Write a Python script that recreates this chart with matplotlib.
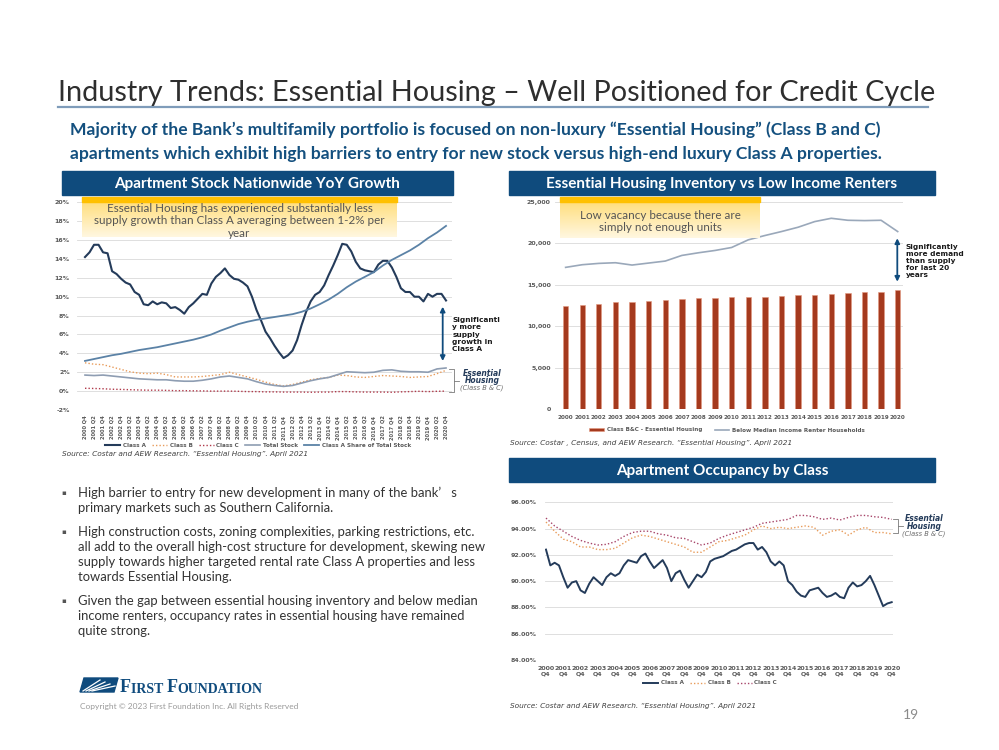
import matplotlib
matplotlib.use("Agg")
import matplotlib.pyplot as plt
import numpy as np
from matplotlib.patches import Rectangle, Polygon, FancyArrowPatch

W, H = 999, 750

# ---------------- data ----------------
# Apartment stock YoY growth (%), 2000 Q4 .. 2020 Q4
half_labels = ["2000 Q4"] + [f"{y} {q}" for y in range(2001, 2021) for q in ("Q2", "Q4")]
class_a_growth = [14.2, 14.7, 15.5, 15.5, 14.7, 14.6, 12.7, 12.4, 11.9, 11.5, 11.3, 10.5, 10.2, 9.2,
                  9.1, 9.5, 9.2, 9.4, 9.3, 8.8, 8.9, 8.6, 8.2, 8.9, 9.3, 9.8, 10.3, 10.2, 11.4, 12.1,
                  12.5, 13.0, 12.3, 11.9, 11.8, 11.5, 11.1, 10.0, 8.6, 7.5, 6.3, 5.6, 4.8, 4.1, 3.5,
                  3.8, 4.3, 5.4, 7.0, 8.4, 9.5, 10.2, 10.5, 11.2, 12.3, 13.3, 14.4, 15.6, 15.5, 14.8,
                  13.7, 13.0, 12.8, 12.7, 12.6, 13.4, 13.8, 13.8, 13.1, 12.1, 10.9, 10.5, 10.5, 10.0,
                  10.0, 9.5, 10.3, 10.0, 10.3, 10.3, 9.6]  # quarterly
class_b_growth = [3.0, 2.85, 2.8, 2.55, 2.3, 2.05, 1.9, 1.85, 1.9, 1.75, 1.5, 1.5, 1.5, 1.55, 1.65,
                  1.75, 2.0, 1.75, 1.5, 1.25, 0.95, 0.7, 0.55, 0.7, 0.95, 1.2, 1.35, 1.45, 1.7, 1.65,
                  1.5, 1.45, 1.55, 1.65, 1.6, 1.55, 1.45, 1.5, 1.55, 1.85, 2.2]
class_c_growth = [0.3, 0.28, 0.25, 0.2, 0.18, 0.15, 0.12, 0.1, 0.1, 0.08, 0.05, 0.05, 0.03, 0.02,
                  0.0, 0.0, 0.0, -0.02, -0.05, -0.05, -0.08, -0.08, -0.1, -0.1, -0.1, -0.12, -0.1,
                  -0.1, -0.05, -0.05, -0.08, -0.1, -0.1, -0.1, -0.12, -0.08, -0.05, -0.02, -0.05,
                  -0.02, 0.0]
total_stock_growth = [1.7, 1.65, 1.7, 1.6, 1.5, 1.4, 1.3, 1.25, 1.2, 1.2, 1.1, 1.05, 1.05, 1.15,
                      1.3, 1.5, 1.6, 1.45, 1.3, 1.0, 0.75, 0.6, 0.5, 0.6, 0.85, 1.1, 1.3, 1.45,
                      1.75, 2.05, 2.0, 1.95, 2.0, 2.2, 2.25, 2.1, 2.05, 2.05, 2.0, 2.35, 2.45]
class_a_share = [3.2, 3.4, 3.6, 3.8, 3.95, 4.15, 4.35, 4.5, 4.65, 4.85, 5.05, 5.25, 5.45, 5.7, 6.0,
                 6.4, 6.75, 7.1, 7.35, 7.55, 7.7, 7.85, 8.0, 8.15, 8.4, 8.75, 9.2, 9.7, 10.3, 11.0,
                 11.6, 12.1, 12.6, 13.3, 13.9, 14.4, 14.9, 15.5, 16.2, 16.8, 17.5]

# Essential housing inventory vs low income renters (thousands)
years = [str(y) for y in range(2000, 2021)]
bc_inventory = [12440, 12600, 12720, 12850, 12930, 13050, 13170, 13250, 13370, 13410, 13450,
                13500, 13540, 13620, 13700, 13780, 13860, 13980, 14060, 14150, 14350]
low_income_renters = [17080, 17400, 17560, 17640, 17360, 17600, 17840, 18520, 18840, 19120, 19480,
                      20400, 20920, 21400, 21920, 22600, 23000, 22760, 22720, 22760, 21400]

# Apartment occupancy by class (%)
occ_year_labels = [f"{y}\nQ4" for y in range(2000, 2021)]
occ_class_a = [92.4, 91.2, 91.4, 91.2, 90.3, 89.5, 89.9, 90.0, 89.3, 89.1, 89.8, 90.3, 90.0, 89.7,
               90.3, 90.6, 90.4, 90.6, 91.2, 91.6, 91.5, 91.4, 91.9, 92.1, 91.5, 91.0, 91.3, 91.6,
               91.0, 90.0, 90.6, 90.8, 90.1, 89.5, 90.0, 90.5, 90.3, 90.7, 91.5, 91.7, 91.8, 91.9,
               92.1, 92.3, 92.4, 92.6, 92.8, 92.9, 92.9, 92.4, 92.6, 92.2, 91.5, 91.2, 91.5, 91.2,
               90.0, 89.7, 89.2, 88.9, 88.8, 89.3, 89.4, 89.5, 89.1, 88.8, 88.9, 89.1, 88.8, 88.7,
               89.5, 89.9, 89.6, 89.7, 90.0, 90.4, 89.7, 88.9, 88.1, 88.3, 88.4]  # quarterly
occ_class_b = [94.5, 93.8, 93.2, 93.0, 92.6, 92.6, 92.4, 92.4, 92.5, 92.9, 93.3, 93.5, 93.4, 93.2,
               93.0, 92.8, 92.6, 92.2, 92.2, 92.6, 93.0, 93.1, 93.3, 93.5, 93.9, 94.2, 94.0, 94.1,
               94.0, 94.1, 94.2, 94.1, 93.5, 93.8, 93.9, 93.5, 93.9, 94.1, 93.7, 93.7, 93.6]
occ_class_c = [94.8, 94.2, 93.8, 93.4, 93.1, 92.9, 92.75, 92.8, 93.0, 93.4, 93.7, 93.8, 93.8, 93.6,
               93.5, 93.3, 93.25, 93.0, 92.75, 92.9, 93.25, 93.5, 93.7, 93.9, 94.1, 94.4, 94.5,
               94.6, 94.7, 95.0, 95.0, 94.9, 94.7, 94.8, 94.65, 94.85, 95.0, 95.0, 94.9, 94.85, 94.7]

# ---------------- styles ----------------
NAVY = "#0F4B7D"
C_A = "#243B5A"
C_B = "#E89B5A"
C_C = "#B0394A"
C_TOT = "#8E9DB2"
C_SHARE = "#5B82A6"
C_BAR = "#A53A1E"
TICK = "#595959"
GRID = "#D9D9D9"

fig = plt.figure(figsize=(W / 100, H / 100), dpi=100)
fig.patch.set_facecolor("white")


def rect(x0, y0, x1, y1):
    return [x0 / W, 1 - y1 / H, (x1 - x0) / W, (y1 - y0) / H]


def style_axes(ax):
    for s in ax.spines.values():
        s.set_visible(False)
    ax.grid(axis="y", color=GRID, lw=0.6)
    ax.set_axisbelow(True)
    ax.tick_params(length=0, labelsize=4.5, labelcolor=TICK)
    for lab in ax.get_xticklabels() + ax.get_yticklabels():
        lab.set_fontweight("bold")


leg_kw = dict(loc="center", bbox_transform=fig.transFigure, frameon=False, handlelength=2.6,
              handletextpad=0.5, columnspacing=1.1, prop={"size": 4.1, "weight": "bold"},
              labelcolor=TICK)

# ---- chart 1: stock growth ----
ax1 = fig.add_axes(rect(76.7, 202.3, 451.7, 410))
xq = np.arange(len(class_a_growth)) / 2
xh = np.arange(len(half_labels))
ax1.plot(xq, class_a_growth, color=C_A, lw=1.5, label="Class A")
ax1.plot(xh, class_b_growth, color=C_B, lw=1.0, ls=(0, (1, 1.5)), label="Class B")
ax1.plot(xh, class_c_growth, color=C_C, lw=1.0, ls=(0, (1, 1.5)), label="Class C")
ax1.plot(xh, total_stock_growth, color=C_TOT, lw=1.2, label="Total Stock")
ax1.plot(xh, class_a_share, color=C_SHARE, lw=1.3, label="Class A Share of Total Stock")
ax1.set_xlim(-0.92, 40.63)
ax1.set_ylim(-2, 20)
ax1.set_yticks(range(-2, 21, 2))
ax1.set_yticklabels([f"{v}%" for v in range(-2, 21, 2)])
ax1.set_xticks(xh)
ax1.set_xticklabels(half_labels, rotation=90)
style_axes(ax1)
ax1.tick_params(axis="y", pad=5)
ax1.tick_params(axis="x", pad=4, labelsize=3.7)
ax1.legend(bbox_to_anchor=(258 / W, 1 - 445 / H), ncol=5, **leg_kw)

# ---- chart 2: inventory vs renters ----
ax2 = fig.add_axes(rect(555, 201.7, 903, 409))
xy = np.arange(len(years))
bars = ax2.bar(xy, bc_inventory, width=0.32, color=C_BAR, edgecolor="#E39A80", lw=0.4,
               label="Class B&C - Essential Housing")
line, = ax2.plot(xy, low_income_renters, color="#9AA8BA", lw=1.2,
                 label="Below Median Income Renter Households")
ax2.set_xlim(-0.64, 20.32)
ax2.set_ylim(0, 25000)
ax2.set_yticks(range(0, 25001, 5000))
ax2.set_yticklabels([f"{v:,}" for v in range(0, 25001, 5000)])
ax2.set_xticks(xy)
ax2.set_xticklabels(years)
style_axes(ax2)
ax2.tick_params(axis="y", pad=3)
ax2.tick_params(axis="x", pad=4, labelsize=4.1)
ax2.legend(handles=[bars, line], bbox_to_anchor=(727 / W, 1 - 430 / H), ncol=2,
           handleheight=0.6, **{**leg_kw, "columnspacing": 2.2})

# ---- chart 3: occupancy ----
ax3 = fig.add_axes(rect(545, 502.3, 893.3, 660))
xo = np.arange(len(occ_class_a))
xo2 = np.arange(len(occ_class_b)) * 2
ax3.plot(xo, occ_class_a, color=C_A, lw=1.4, label="Class A")
ax3.plot(xo2, occ_class_b, color=C_B, lw=1.0, ls=(0, (1, 1.5)), label="Class B")
ax3.plot(xo2, occ_class_c, color="#A8466A", lw=1.0, ls=(0, (1, 1.5)), label="Class C")
ax3.set_xlim(-0.23, 80.37)
ax3.set_ylim(84, 96)
ax3.set_yticks(range(84, 97, 2))
ax3.set_yticklabels([f"{v:.2f}%" for v in range(84, 97, 2)])
ax3.set_xticks(np.arange(0, 81, 4))
ax3.set_xticklabels(occ_year_labels, linespacing=1.3)
style_axes(ax3)
ax3.tick_params(axis="y", pad=6)
ax3.tick_params(axis="x", pad=4)
ax3.legend(bbox_to_anchor=(710 / W, 1 - 683 / H), ncol=3, **leg_kw)

# ---------------- overlay (pixel coords) ----------------
ov = fig.add_axes([0, 0, 1, 1], zorder=10)
ov.set_xlim(0, W)
ov.set_ylim(H, 0)
ov.axis("off")

ov.text(58, 101, "Industry Trends: Essential Housing \u2013 Well Positioned for Credit Cycle",
        fontsize=20.8, family="Lato", color="#2e2e2e", va="baseline")
ov.plot([58, 928], [106.5, 106.5], color="#7F9CBA", lw=1.6)

sub_kw = dict(fontsize=12.6, family="Lato", weight="bold", color="#14507F", va="baseline")
ov.text(70, 135, "Majority of the Bank\u2019s multifamily portfolio is focused on non-luxury "
        "\u201cEssential Housing\u201d (Class B and C)", **sub_kw)
ov.text(70, 159, "apartments which exhibit high barriers to entry for new stock versus high-end "
        "luxury Class A properties.", **sub_kw)

# section header bars
headers = [((62, 171, 453, 195), "Apartment Stock Nationwide YoY Growth"),
           ((509, 171, 935, 195), "Essential Housing Inventory vs Low Income Renters"),
           ((509, 458, 935, 482), "Apartment Occupancy by Class")]
for (x0, y0, x1, y1), txt in headers:
    ov.add_patch(Rectangle((x0, y0), x1 - x0, y1 - y0, color=NAVY))
    ov.text((x0 + x1) / 2, (y0 + y1) / 2 + 1, txt, color="white", fontsize=11,
            family="Lato", weight="bold", ha="center", va="center")

# callout boxes
grad = np.linspace(0, 1, 64)[:, None]
cmap = matplotlib.colors.LinearSegmentedColormap.from_list("callout", ["#FFDB70", "#FFF7E0"])
for (x0, y0, x1, y1), txt in [((82, 197, 397, 237), "Essential Housing has experienced substantially less\n"
                                                    "supply growth than Class A averaging between 1-2% per\nyear"),
                              ((560, 197, 760, 238), "Low vacancy because there are\nsimply not enough units")]:
    ov.imshow(grad, cmap=cmap, extent=(x0, x1, y1, y0), aspect="auto", origin="upper", zorder=2)
    ov.add_patch(Rectangle((x0, y0), x1 - x0, 4.5, color="#FFC000", zorder=3))
    ov.text((x0 + x1) / 2, (y0 + y1) / 2 + 4, txt, ha="center", va="center", fontsize=8.4,
            family="Lato", color="#555555", linespacing=1.2, zorder=4)
ov.set_xlim(0, W)
ov.set_ylim(H, 0)

# arrows
for x, ya, yb in [(442.7, 306.7, 361), (897.3, 238.3, 281.7)]:
    ov.add_patch(FancyArrowPatch((x, ya), (x, yb), arrowstyle="<|-|>", mutation_scale=7,
                                 color=NAVY, lw=1.3, shrinkA=0, shrinkB=0))
ov.text(452.5, 317, "Significantl\ny more\nsupply\ngrowth in\nClass A", fontsize=5.3, weight="bold",
        color="#1a1a1a", va="top", linespacing=1.25)
ov.text(906, 243.5, "Significantly\nmore demand\nthan supply\nfor last 20\nyears", fontsize=5.3,
        weight="bold", color="#1a1a1a", va="top", linespacing=1.25)

# brackets
for x0, x1, xt, ya, yb, xtxt in [(449.3, 454, 459.3, 369.3, 391.7, 482), (893, 898, 902.7, 519.3, 533.3, 924)]:
    ov.plot([x0, x1, x1, x0], [ya, ya, yb, yb], color="#7a7a7a", lw=0.6)
    ov.plot([x1, xt], [(ya + yb) / 2, (ya + yb) / 2], color="#7a7a7a", lw=0.6)
    ym = (ya + yb) / 2
    ov.text(xtxt, ym - 7.5, "Essential", ha="center", va="center", fontsize=5.5, weight="bold",
            style="italic", color=C_A)
    ov.text(xtxt, ym, "Housing", ha="center", va="center", fontsize=5.5, weight="bold",
            style="italic", color=C_A)
    ov.text(xtxt, ym + 7.5, "(Class B & C)", ha="center", va="center", fontsize=4.8,
            style="italic", color="#6a6a6a")

# sources
src_kw = dict(fontsize=5.3, style="italic", color="#404040", va="center")
ov.text(62, 454, "Source: Costar and AEW Research. \u201cEssential Housing\u201d. April 2021", **src_kw)
ov.text(510, 443, "Source: Costar , Census, and AEW Research. \u201cEssential Housing\u201d. April 2021", **src_kw)
ov.text(510, 706, "Source: Costar and AEW Research. \u201cEssential Housing\u201d. April 2021", **src_kw)

# bullets
bullets = [(493, ["High barrier to entry for new development in many of the bank\u2019   s",
                  "primary markets such as Southern California."]),
           (532, ["High construction costs, zoning complexities, parking restrictions, etc.",
                  "all add to the overall high-cost structure for development, skewing new",
                  "supply towards higher targeted rental rate Class A properties and less",
                  "towards Essential Housing."]),
           (601, ["Given the gap between essential housing inventory and below median",
                  "income renters, occupancy rates in essential housing have remained",
                  "quite strong."])]
for y0, lines in bullets:
    ov.text(61, y0, "\u25aa", fontsize=5, color="#555555", va="center")
    for k, line in enumerate(lines):
        ov.text(78, y0 + 15 * k, line, fontsize=9.4, family="Lato", color="#333333", va="center")

# logo
ov.add_patch(Polygon([(80, 692), (84, 678), (118, 678), (114, 692)], closed=True, color=NAVY))
for k in range(4):
    ov.plot([83 + 3 * k, 100 + 5 * k], [691, 680 + 2 * k], color="white", lw=0.9)
t = ov.text(120, 692, "F", fontsize=13, family="Liberation Serif", weight="bold", color=NAVY, va="baseline")
t = ov.annotate("IRST ", xy=(1, 0), xycoords=t, fontsize=10, family="Liberation Serif", weight="bold",
                color=NAVY, va="bottom")
t = ov.annotate("F", xy=(1, 0), xycoords=t, fontsize=13, family="Liberation Serif", weight="bold",
                color=NAVY, va="bottom")
ov.annotate("OUNDATION", xy=(1, 0), xycoords=t, fontsize=10, family="Liberation Serif", weight="bold",
            color=NAVY, va="bottom")
ov.text(80, 706, "Copyright \u00a9 2023 First Foundation Inc. All Rights Reserved", fontsize=6,
        family="Lato", color="#9a9a9a", va="center")
ov.text(903, 715, "19", fontsize=10, family="Lato", color="#8a8a8a", va="center")

fig.savefig("out.png", dpi=100)
